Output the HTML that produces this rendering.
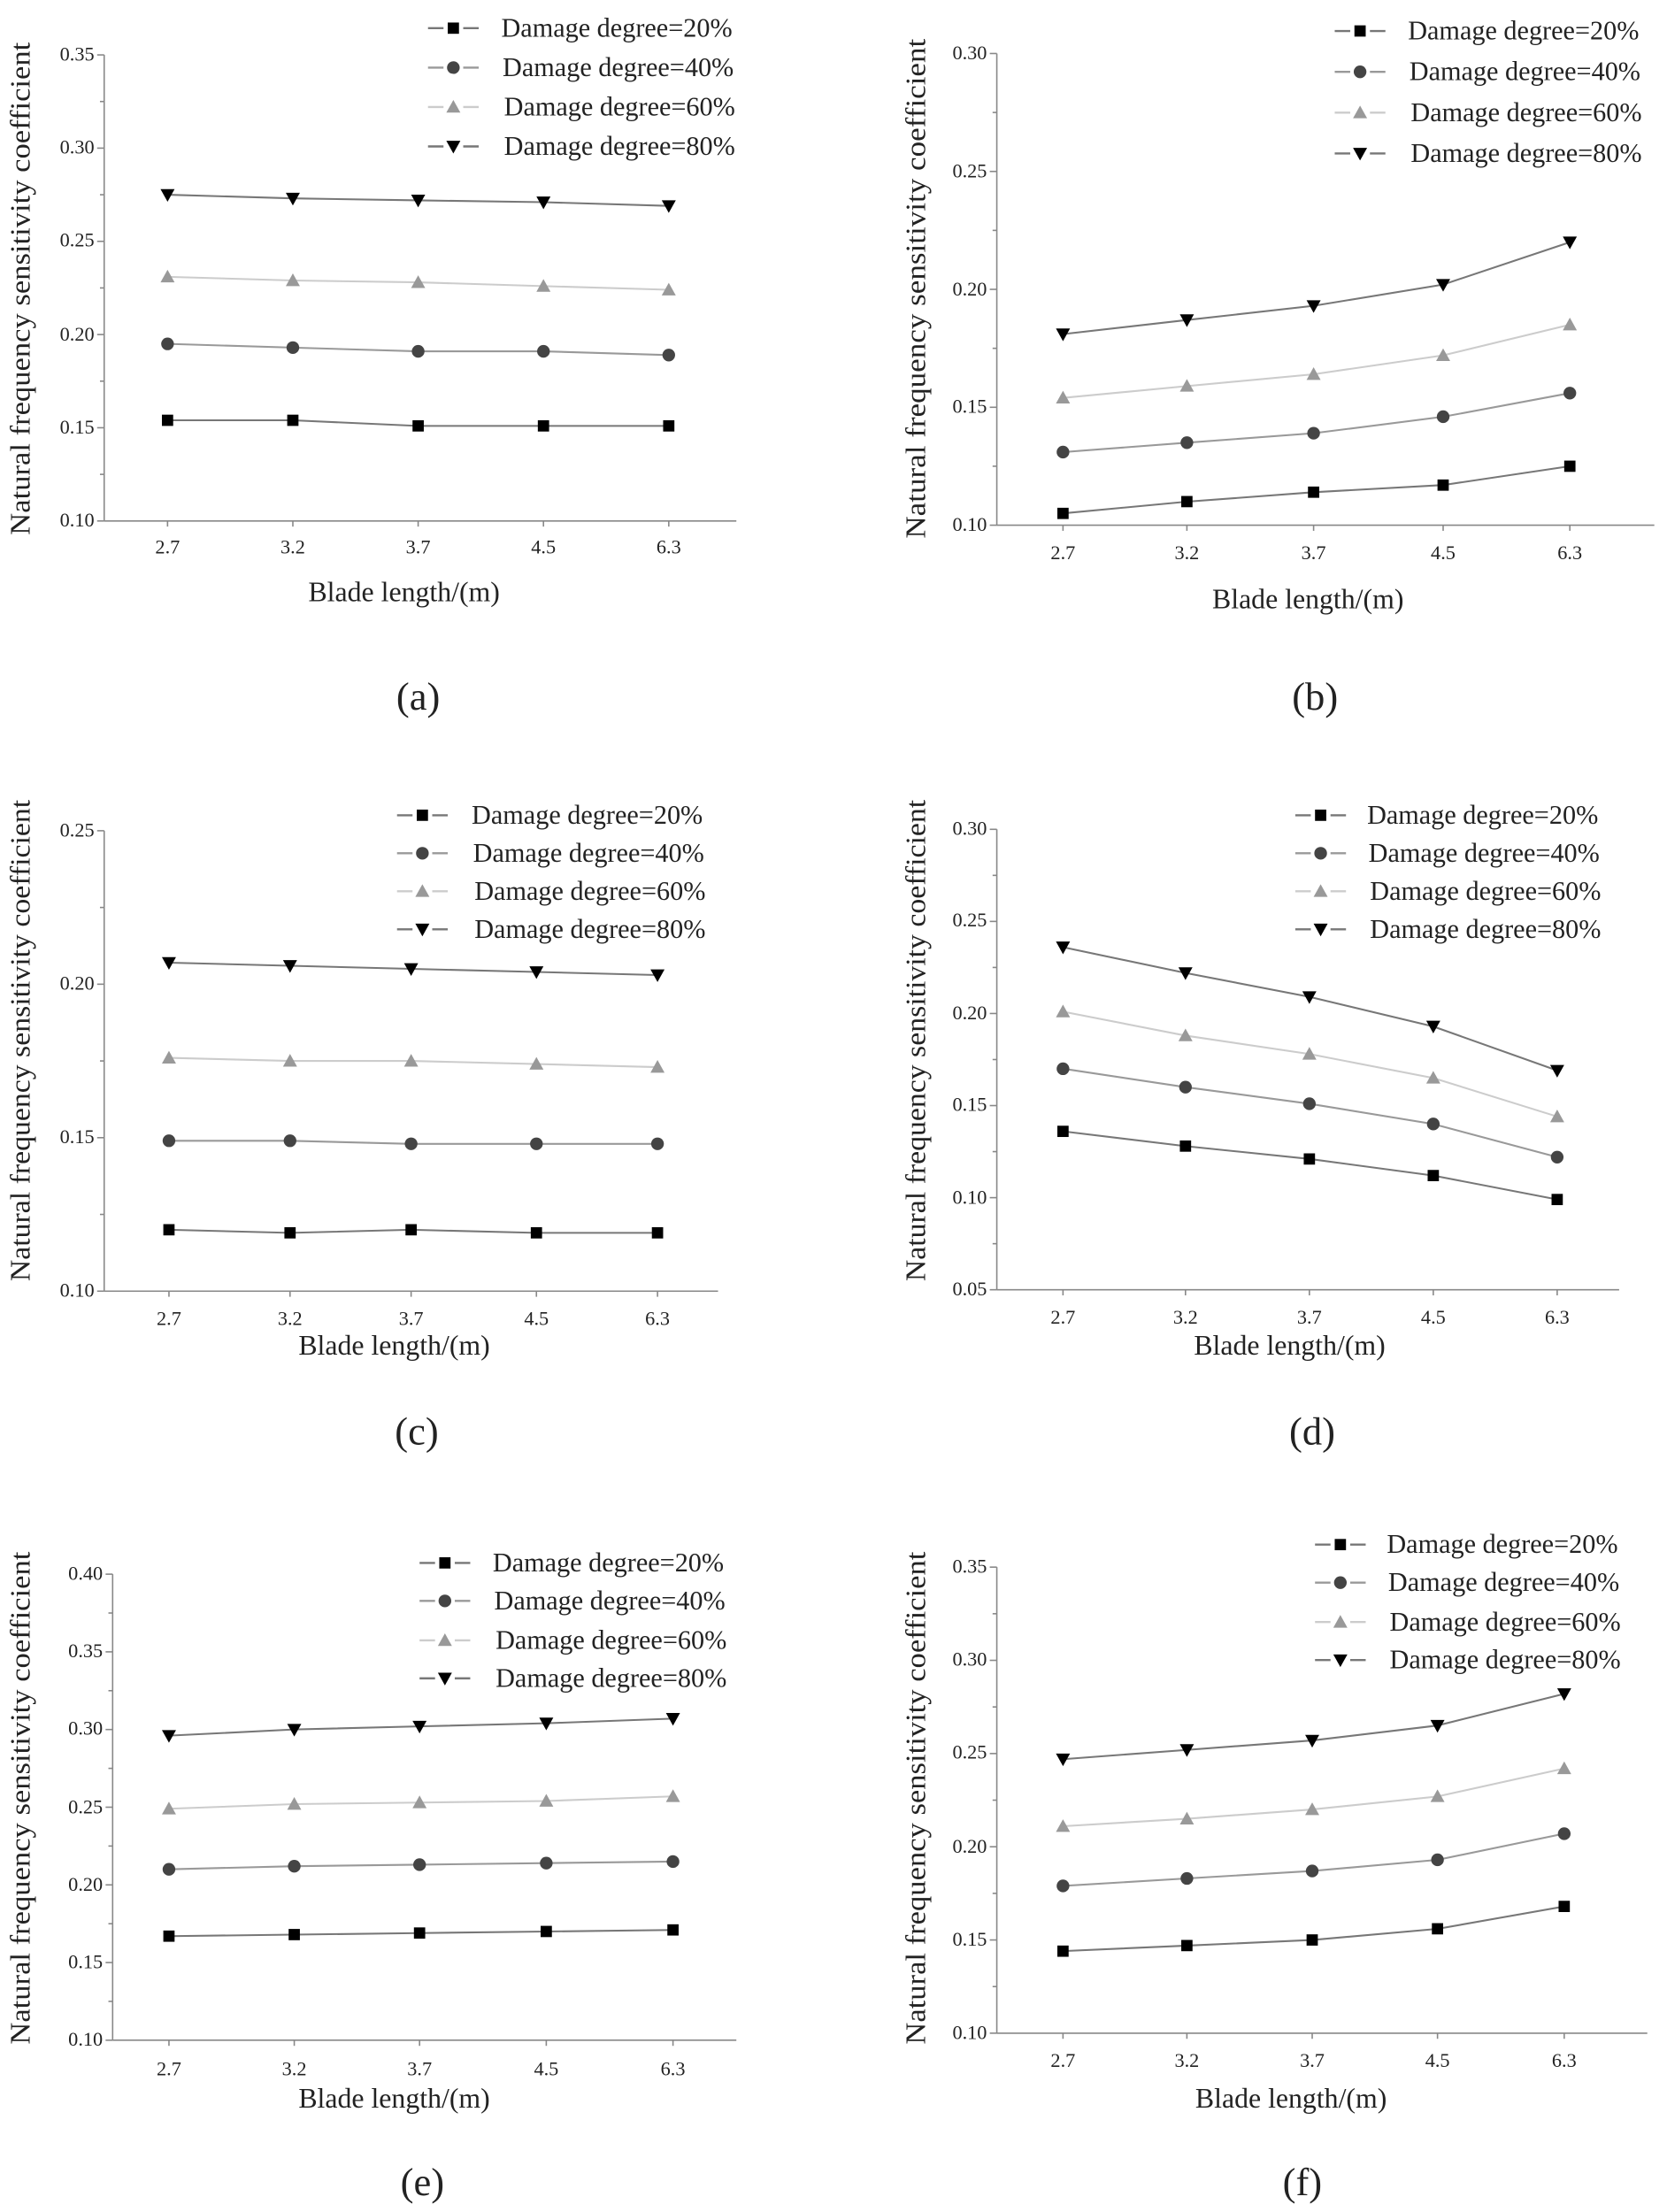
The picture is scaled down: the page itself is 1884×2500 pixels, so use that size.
<!DOCTYPE html>
<html><head><meta charset="utf-8"><style>
html,body{margin:0;padding:0;background:#fff}
svg{display:block}
text{font-family:"Liberation Serif",serif;fill:#222}
.t{font-size:14px}
.lg{font-size:19px}
.ax{font-size:20px}
.cap{font-size:28px}
</style></head><body>
<svg id="s" width="1884" height="2500" viewBox="0 0 1184 1571" preserveAspectRatio="none" xmlns="http://www.w3.org/2000/svg">
<g id="geo"></g>
<g class="t" text-anchor="end">
<text x="67" y="43">0.35</text><text x="67" y="109">0.30</text><text x="67" y="175">0.25</text><text x="67" y="242">0.20</text><text x="67" y="308">0.15</text><text x="67" y="374">0.10</text>
<text x="701" y="42">0.30</text><text x="701" y="126">0.25</text><text x="701" y="210">0.20</text><text x="701" y="293">0.15</text><text x="701" y="377">0.10</text>
<text x="67" y="594">0.25</text><text x="67" y="703">0.20</text><text x="67" y="812">0.15</text><text x="67" y="921">0.10</text>
<text x="701" y="593">0.30</text><text x="701" y="658">0.25</text><text x="701" y="724">0.20</text><text x="701" y="789">0.15</text><text x="701" y="855">0.10</text><text x="701" y="920">0.05</text>
<text x="73" y="1122">0.40</text><text x="73" y="1177">0.35</text><text x="73" y="1232">0.30</text><text x="73" y="1288">0.25</text><text x="73" y="1343">0.20</text><text x="73" y="1398">0.15</text><text x="73" y="1453">0.10</text>
<text x="701" y="1117">0.35</text><text x="701" y="1183">0.30</text><text x="701" y="1249">0.25</text><text x="701" y="1316">0.20</text><text x="701" y="1382">0.15</text><text x="701" y="1448">0.10</text>
</g>
<g class="t" text-anchor="middle">
<text x="119" y="393">2.7</text><text x="208" y="393">3.2</text><text x="297" y="393">3.7</text><text x="386" y="393">4.5</text><text x="475" y="393">6.3</text>
<text x="755" y="397">2.7</text><text x="843" y="397">3.2</text><text x="933" y="397">3.7</text><text x="1025" y="397">4.5</text><text x="1115" y="397">6.3</text>
<text x="120" y="941">2.7</text><text x="206" y="941">3.2</text><text x="292" y="941">3.7</text><text x="381" y="941">4.5</text><text x="467" y="941">6.3</text>
<text x="755" y="940">2.7</text><text x="842" y="940">3.2</text><text x="930" y="940">3.7</text><text x="1018" y="940">4.5</text><text x="1106" y="940">6.3</text>
<text x="120" y="1474">2.7</text><text x="209" y="1474">3.2</text><text x="298" y="1474">3.7</text><text x="388" y="1474">4.5</text><text x="478" y="1474">6.3</text>
<text x="755" y="1468">2.7</text><text x="843" y="1468">3.2</text><text x="932" y="1468">3.7</text><text x="1021" y="1468">4.5</text><text x="1111" y="1468">6.3</text>
</g>
<g class="ax" text-anchor="middle">
<text x="287" y="427">Blade length/(m)</text>
<text x="929" y="432">Blade length/(m)</text>
<text x="280" y="962">Blade length/(m)</text>
<text x="916" y="962">Blade length/(m)</text>
<text x="280" y="1497">Blade length/(m)</text>
<text x="917" y="1497">Blade length/(m)</text>
<text transform="translate(21,205) rotate(-90)" textLength="350" lengthAdjust="spacingAndGlyphs">Natural frequency sensitivity  coefficient</text>
<text transform="translate(657,205) rotate(-90)" textLength="355" lengthAdjust="spacingAndGlyphs">Natural frequency sensitivity  coefficient</text>
<text transform="translate(21,739) rotate(-90)" textLength="342" lengthAdjust="spacingAndGlyphs">Natural frequency sensitivity  coefficient</text>
<text transform="translate(657,739) rotate(-90)" textLength="342" lengthAdjust="spacingAndGlyphs">Natural frequency sensitivity  coefficient</text>
<text transform="translate(21,1277) rotate(-90)" textLength="350" lengthAdjust="spacingAndGlyphs">Natural frequency sensitivity  coefficient</text>
<text transform="translate(657,1277) rotate(-90)" textLength="350" lengthAdjust="spacingAndGlyphs">Natural frequency sensitivity  coefficient</text>
</g>
<g class="cap" text-anchor="middle">
<text x="297" y="504">(a)</text><text x="934" y="504">(b)</text>
<text x="296" y="1026">(c)</text><text x="932" y="1026">(d)</text>
<text x="300" y="1559">(e)</text><text x="925" y="1559">(f)</text>
</g>
<g class="lg">
<text x="356" y="26">Damage  degree=20%</text><text x="357" y="54">Damage  degree=40%</text><text x="358" y="82">Damage  degree=60%</text><text x="358" y="110">Damage  degree=80%</text>
<text x="1000" y="28">Damage  degree=20%</text><text x="1001" y="57">Damage  degree=40%</text><text x="1002" y="86">Damage  degree=60%</text><text x="1002" y="115">Damage  degree=80%</text>
<text x="335" y="585">Damage  degree=20%</text><text x="336" y="612">Damage  degree=40%</text><text x="337" y="639">Damage  degree=60%</text><text x="337" y="666">Damage  degree=80%</text>
<text x="971" y="585">Damage  degree=20%</text><text x="972" y="612">Damage  degree=40%</text><text x="973" y="639">Damage  degree=60%</text><text x="973" y="666">Damage  degree=80%</text>
<text x="350" y="1116">Damage  degree=20%</text><text x="351" y="1143">Damage  degree=40%</text><text x="352" y="1171">Damage  degree=60%</text><text x="352" y="1198">Damage  degree=80%</text>
<text x="985" y="1103">Damage  degree=20%</text><text x="986" y="1130">Damage  degree=40%</text><text x="987" y="1158">Damage  degree=60%</text><text x="987" y="1185">Damage  degree=80%</text>
</g>
</svg>
<script>
var NS="http://www.w3.org/2000/svg",G=document.getElementById("geo");
function el(n,a){var e=document.createElementNS(NS,n);for(var k in a)e.setAttribute(k,a[k]);G.appendChild(e);return e;}
var LC=["#777","#999","#ccc","#777"],MC=["#000","#444","#999","#000"];
function mark(t,x,y){var c=MC[t];
 if(t==0)el("rect",{x:x-4,y:y-4,width:8,height:8,fill:c});
 else if(t==1)el("circle",{cx:x,cy:y,r:4.5,fill:c});
 else if(t==2)el("polygon",{points:(x-5)+","+(y+4)+" "+(x+5)+","+(y+4)+" "+x+","+(y-5),fill:c});
 else el("polygon",{points:(x-5)+","+(y-4)+" "+(x+5)+","+(y-4)+" "+x+","+(y+5),fill:c});}
var P=[
 {ax:74,vt:.35,yt:39,vb:.10,yb:370,xe:523,xs:[119,208,297,386,475],lx:322,ly:[20,48,76,104],
  d:[[.154,.154,.151,.151,.151],[.195,.193,.191,.191,.189],[.231,.229,.228,.226,.224],[.275,.273,.272,.271,.269]]},
 {ax:708,vt:.30,yt:38,vb:.10,yb:373,xe:1175,xs:[755,843,933,1025,1115],lx:966,ly:[22,51,80,109],
  d:[[.105,.110,.114,.117,.125],[.131,.135,.139,.146,.156],[.154,.159,.164,.172,.185],[.181,.187,.193,.202,.220]]},
 {ax:74,vt:.25,yt:590,vb:.10,yb:917,xe:510,xs:[120,206,292,381,467],lx:300,ly:[579,606,633,660],
  d:[[.120,.119,.120,.119,.119],[.149,.149,.148,.148,.148],[.176,.175,.175,.174,.173],[.207,.206,.205,.204,.203]]},
 {ax:708,vt:.30,yt:589,vb:.05,yb:916,xe:1150,xs:[755,842,930,1018,1106],lx:938,ly:[579,606,633,660],
  d:[[.136,.128,.121,.112,.099],[.170,.160,.151,.140,.122],[.201,.188,.178,.165,.144],[.236,.222,.209,.193,.169]]},
 {ax:80,vt:.40,yt:1118,vb:.10,yb:1449,xe:523,xs:[120,209,298,388,478],lx:316,ly:[1110,1137,1165,1192],
  d:[[.167,.168,.169,.170,.171],[.210,.212,.213,.214,.215],[.249,.252,.253,.254,.257],[.296,.300,.302,.304,.307]]},
 {ax:708,vt:.35,yt:1113,vb:.10,yb:1444,xe:1170,xs:[755,843,932,1021,1111],lx:952,ly:[1097,1124,1152,1179],
  d:[[.144,.147,.150,.156,.168],[.179,.183,.187,.193,.207],[.211,.215,.220,.227,.242],[.247,.252,.257,.265,.282]]}
];
P.forEach(function(p){
 function Y(v){return p.yb-(v-p.vb)/(p.vt-p.vb)*(p.yb-p.yt);}
 el("line",{x1:p.ax,y1:p.yt,x2:p.ax,y2:p.yb,stroke:"#888","stroke-width":1});
 el("line",{x1:p.ax,y1:p.yb,x2:p.xe,y2:p.yb,stroke:"#888","stroke-width":1});
 for(var v=p.vb;v<=p.vt+1e-6;v+=.025){var y=Y(v),maj=Math.abs(Math.round(v*20)-v*20)<1e-6;
  el("line",{x1:p.ax-(maj?5:3),y1:y,x2:p.ax,y2:y,stroke:"#888","stroke-width":1});}
 p.xs.forEach(function(x){el("line",{x1:x,y1:p.yb,x2:x,y2:p.yb+4,stroke:"#888","stroke-width":1});});
 p.d.forEach(function(s,t){
  var pts=s.map(function(v,i){return p.xs[i]+","+Y(v).toFixed(1);}).join(" ");
  el("polyline",{points:pts,fill:"none",stroke:LC[t],"stroke-width":1.3});
  s.forEach(function(v,i){mark(t,p.xs[i],Y(v));});
  var ly=p.ly[t];
  el("line",{x1:p.lx-18,y1:ly,x2:p.lx-7,y2:ly,stroke:LC[t],"stroke-width":1.5});
  el("line",{x1:p.lx+7,y1:ly,x2:p.lx+18,y2:ly,stroke:LC[t],"stroke-width":1.5});
  mark(t,p.lx,ly);
 });
});
</script>
</body></html>
